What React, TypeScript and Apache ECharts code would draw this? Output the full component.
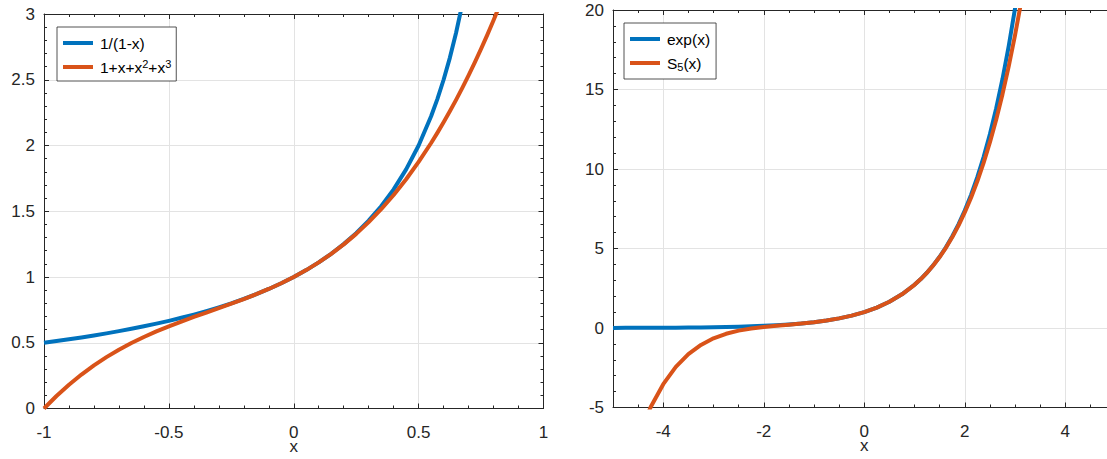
import React, { useEffect, useRef } from "react";
import * as echarts from "echarts";

// Left panel: x samples and curve values
const leftX = [-1, -0.95, -0.9, -0.85, -0.8, -0.75, -0.7, -0.65, -0.6, -0.55, -0.5, -0.45, -0.4, -0.35, -0.3, -0.25, -0.2, -0.15, -0.1, -0.05, 0, 0.05, 0.1, 0.15, 0.2, 0.25, 0.3, 0.35, 0.4, 0.45, 0.5, 0.55, 0.575, 0.6, 0.625, 0.65, 0.675, 0.7, 0.725, 0.75, 0.775, 0.8, 0.85];
const leftRecip = [0.5, 0.5128, 0.5263, 0.5405, 0.5556, 0.5714, 0.5882, 0.6061, 0.625, 0.6452, 0.6667, 0.6897, 0.7143, 0.7407, 0.7692, 0.8, 0.8333, 0.8696, 0.9091, 0.9524, 1, 1.0526, 1.1111, 1.1765, 1.25, 1.3333, 1.4286, 1.5385, 1.6667, 1.8182, 2, 2.2222, 2.3529, 2.5, 2.6667, 2.8571, 3.0769, 3.3333, 3.6364, 4, 4.4444, 5, 6.6667];
const leftPoly = [0, 0.0951, 0.181, 0.2584, 0.328, 0.3906, 0.447, 0.4979, 0.544, 0.5861, 0.625, 0.6614, 0.696, 0.7296, 0.763, 0.7969, 0.832, 0.8691, 0.909, 0.9524, 1, 1.0526, 1.111, 1.1759, 1.248, 1.3281, 1.417, 1.5154, 1.624, 1.7436, 1.875, 2.0189, 2.0957, 2.176, 2.2598, 2.3471, 2.4382, 2.533, 2.6317, 2.7344, 2.8411, 2.952, 3.1866];

// Right panel
const rightX = [-5, -4.75, -4.5, -4.25, -4, -3.75, -3.5, -3.25, -3, -2.75, -2.5, -2.25, -2, -1.75, -1.5, -1.25, -1, -0.75, -0.5, -0.25, 0, 0.25, 0.5, 0.75, 1, 1.125, 1.25, 1.375, 1.5, 1.625, 1.75, 1.875, 2, 2.125, 2.25, 2.375, 2.5, 2.625, 2.75, 2.875, 3, 3.125, 3.25, 3.5];
const rightExp = [0.0067, 0.0087, 0.0111, 0.0143, 0.0183, 0.0235, 0.0302, 0.0388, 0.0498, 0.0639, 0.0821, 0.1054, 0.1353, 0.1738, 0.2231, 0.2865, 0.3679, 0.4724, 0.6065, 0.7788, 1, 1.284, 1.6487, 2.117, 2.7183, 3.0802, 3.4903, 3.9551, 4.4817, 5.0784, 5.7546, 6.5208, 7.3891, 8.3729, 9.4877, 10.751, 12.1825, 13.8046, 15.6426, 17.7254, 20.0855, 22.76, 25.7903, 33.1155];
const rightS5 = [-12.3333, -9.2702, -6.8539, -4.9739, -3.5333, -2.4479, -1.6451, -1.0631, -0.65, -0.3626, -0.1654, -0.0299, 0.0667, 0.142, 0.2102, 0.282, 0.3667, 0.4721, 0.6065, 0.7788, 1, 1.284, 1.6487, 2.1167, 2.7167, 3.0769, 3.4839, 3.9435, 4.4617, 5.0454, 5.702, 6.4395, 7.2667, 8.1928, 9.2281, 10.3835, 11.6706, 13.102, 14.691, 16.452, 18.4, 20.5512, 22.9228, 28.4003];

const leftNames = ["1/(1-x)", "1+x+x2+x3"];
const rightNames = ["exp(x)", "S5(x)"];
const richLabels: Record<string, string> = {
  "1/(1-x)": "1/(1-x)",
  "1+x+x2+x3": "1+x+x{sup|2}+x{sup|3}",
  "exp(x)": "exp(x)",
  "S5(x)": "S{sub|5}(x)",
};

const BLUE = "#0072BD";
const ORANGE = "#D95319";
const AX = "#262626";
const GRIDC = "#e3e3e3";
const FONT = "'Liberation Sans', Arial, Helvetica, sans-serif";
const TICK_FS = 17;

function pairs(xs: number[], ys: number[]) {
  return xs.map((x, i) => [x, ys[i]]);
}

function mainX(gridIndex: number, min: number, max: number, extra: any) {
  return {
    type: "value",
    gridIndex,
    position: "bottom",
    min,
    max,
    ...extra,
    axisLine: { show: true, onZero: false, lineStyle: { color: AX, width: 1 } },
    axisTick: { show: true, inside: true, length: 5, lineStyle: { color: AX } },
    axisLabel: { color: AX, fontSize: TICK_FS, margin: 15, fontFamily: FONT, ...(extra.axisLabel || {}) },
    splitLine: { show: true, lineStyle: { color: GRIDC, width: 1 } },
    name: "x",
    nameLocation: "middle",
    nameGap: 29,
    nameMoveOverlap: false,
    nameTextStyle: { color: AX, fontSize: 17, fontFamily: FONT, lineHeight: 17 },
  };
}

function boxX(gridIndex: number, min: number, max: number, extra: any) {
  return {
    type: "value",
    gridIndex,
    position: "top",
    min,
    max,
    ...extra,
    axisLine: { show: true, onZero: false, lineStyle: { color: AX, width: 1 } },
    axisTick: { show: true, inside: true, length: 5, lineStyle: { color: AX } },
    axisLabel: { show: false },
    splitLine: { show: false },
  };
}

function mainY(gridIndex: number, min: number, max: number, interval: number, minorSplit: number) {
  return {
    type: "value",
    gridIndex,
    position: "left",
    min,
    max,
    interval,
    axisLine: { show: true, onZero: false, lineStyle: { color: AX, width: 1 } },
    axisTick: { show: true, inside: true, length: 5, lineStyle: { color: AX } },
    minorTick: { show: true, splitNumber: minorSplit, length: 3, lineStyle: { color: AX } },
    axisLabel: { color: AX, fontSize: TICK_FS, margin: 9, fontFamily: FONT },
    splitLine: { show: true, lineStyle: { color: GRIDC, width: 1 } },
  };
}

function boxY(gridIndex: number, min: number, max: number, interval: number, minorSplit: number) {
  return {
    type: "value",
    gridIndex,
    position: "right",
    min,
    max,
    interval,
    axisLine: { show: true, onZero: false, lineStyle: { color: AX, width: 1 } },
    axisTick: { show: true, inside: true, length: 5, lineStyle: { color: AX } },
    minorTick: { show: true, splitNumber: minorSplit, length: 3, lineStyle: { color: AX } },
    axisLabel: { show: false },
    splitLine: { show: false },
  };
}

function legendCfg(names: string[], left: number, top: number, padding: number[]) {
  return {
    orient: "vertical",
    left,
    top,
    data: names,
    icon: "rect",
    itemWidth: 30,
    itemHeight: 4,
    itemGap: 6,
    padding,
    backgroundColor: "#ffffff",
    borderColor: AX,
    borderWidth: 0.8,
    borderRadius: 0,
    selectedMode: false,
    formatter: (n: string) => richLabels[n] || n,
    textStyle: {
      color: "#000",
      fontSize: 15.5,
      lineHeight: 18,
      fontFamily: FONT,
      padding: [0, 0, 0, 2],
      rich: {
        sup: { fontSize: 11, lineHeight: 11, verticalAlign: "top", color: "#000", fontFamily: FONT },
        sub: { fontSize: 11, lineHeight: 11, verticalAlign: "bottom", color: "#000", fontFamily: FONT },
      },
    },
  };
}

function lineSeries(name: string, color: string, xi: number, yi: number, data: number[][]) {
  return {
    type: "line",
    name,
    xAxisIndex: xi,
    yAxisIndex: yi,
    data,
    showSymbol: false,
    symbol: "none",
    clip: true,
    smooth: false,
    lineStyle: { color, width: 4, join: "round", cap: "butt" },
    itemStyle: { color },
  };
}

export default function App() {
  const ref = useRef<HTMLDivElement>(null);

  useEffect(() => {
    if (!ref.current) return;
    const chart = echarts.init(ref.current, undefined, { renderer: "svg" });
    chart.setOption({
      animation: false,
      backgroundColor: "#ffffff",
      textStyle: { fontFamily: FONT },
      grid: [
        { left: 44, top: 14, width: 499.5, height: 394.5, containLabel: false, outerBoundsMode: "none" },
        { left: 613, top: 10, width: 502.5, height: 397.5, containLabel: false, outerBoundsMode: "none" },
      ],
      xAxis: [
        mainX(0, -1, 1, { interval: 0.5, minorTick: { show: true, splitNumber: 5, length: 3, lineStyle: { color: AX } } }),
        boxX(0, -1, 1, { interval: 0.5, minorTick: { show: true, splitNumber: 5, length: 3, lineStyle: { color: AX } } }),
        mainX(1, -5, 5, {
          splitNumber: 5,
          minorTick: { show: true, splitNumber: 4, length: 3, lineStyle: { color: AX } },
          axisLabel: { showMinLabel: false, showMaxLabel: false },
        }),
        boxX(1, -5, 5, { splitNumber: 5, minorTick: { show: true, splitNumber: 4, length: 3, lineStyle: { color: AX } } }),
      ],
      yAxis: [
        mainY(0, 0, 3, 0.5, 5),
        boxY(0, 0, 3, 0.5, 5),
        mainY(1, -5, 20, 5, 5),
        boxY(1, -5, 20, 5, 5),
      ],
      legend: [
        legendCfg(leftNames, 57, 27, [7, 5, 5, 6]),
        legendCfg(rightNames, 624, 23, [7, 6, 7, 6]),
      ],
      series: [
        lineSeries(leftNames[0], BLUE, 0, 0, pairs(leftX, leftRecip)),
        lineSeries(leftNames[1], ORANGE, 0, 0, pairs(leftX, leftPoly)),
        lineSeries(rightNames[0], BLUE, 2, 2, pairs(rightX, rightExp)),
        lineSeries(rightNames[1], ORANGE, 2, 2, pairs(rightX, rightS5)),
      ],
    });
    return () => chart.dispose();
  }, []);

  return (
    <div
      ref={ref}
      style={{ position: "fixed", left: 0, top: 0, width: 1130, height: 459, background: "#fff" }}
    />
  );
}
